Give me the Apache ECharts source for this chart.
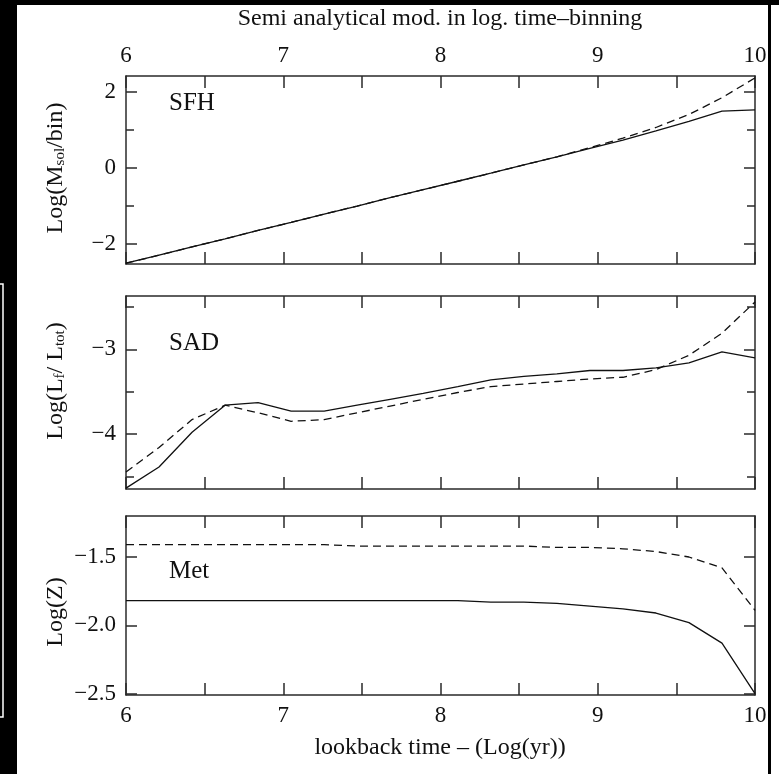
<!DOCTYPE html>
<html><head><meta charset="utf-8">
<script src="https://cdn.jsdelivr.net/npm/echarts@6/dist/echarts.min.js"></script>
<style>html,body{margin:0;padding:0;background:#fff}#c{width:779px;height:774px}</style>
</head><body><div id="c"></div>
<script>
// ---- data ----
const lookbackTime = [6.00, 6.21, 6.42, 6.63, 6.84, 7.05, 7.26, 7.47, 7.68, 7.89, 8.11, 8.32, 8.53, 8.74, 8.95, 9.16, 9.37, 9.58, 9.79, 10.00];
const sfhSolid  = [-2.50, -2.29, -2.07, -1.86, -1.64, -1.43, -1.21, -1.00, -0.78, -0.57, -0.35, -0.14, 0.08, 0.29, 0.51, 0.73, 0.97, 1.22, 1.49, 1.52];
const sfhDashed = [-2.50, -2.29, -2.07, -1.86, -1.64, -1.43, -1.21, -1.00, -0.78, -0.57, -0.35, -0.14, 0.08, 0.29, 0.53, 0.78, 1.06, 1.40, 1.84, 2.36];
const sadSolid  = [-4.64, -4.39, -3.98, -3.66, -3.63, -3.73, -3.73, -3.66, -3.59, -3.52, -3.44, -3.36, -3.32, -3.29, -3.25, -3.25, -3.22, -3.16, -3.03, -3.10];
const sadDashed = [-4.45, -4.16, -3.83, -3.66, -3.75, -3.85, -3.83, -3.75, -3.67, -3.59, -3.51, -3.44, -3.41, -3.38, -3.35, -3.33, -3.24, -3.07, -2.81, -2.44];
const metSolid  = [-1.82, -1.82, -1.82, -1.82, -1.82, -1.82, -1.82, -1.82, -1.82, -1.82, -1.82, -1.83, -1.83, -1.84, -1.86, -1.88, -1.91, -1.98, -2.13, -2.50];
const metDashed = [-1.41, -1.41, -1.41, -1.41, -1.41, -1.41, -1.41, -1.42, -1.42, -1.42, -1.42, -1.42, -1.42, -1.43, -1.43, -1.44, -1.46, -1.50, -1.58, -1.89];

const xRange = [6, 10];
const sfhRange = [-2.52, 2.41];
const sadRange = [-4.65, -2.37];
const metRange = [-2.51, -1.20];
const sfhMajor = [-2, 0, 2];
const sfhMinor = [-1, 1];
const sadMajor = [-4, -3];
const sadMinor = [-4.5, -3.5, -2.5];
const metMajor = [-2.5, -2.0, -1.5];
const metMinor = [];
const panelNames = ['SFH', 'SAD', 'Met'];
const topTitle = 'Semi analytical mod. in log. time–binning';
const bottomTitle = 'lookback time – (Log(yr))';

// ---- style ----
const FONT = 'Liberation Serif';
const INK = '#111';
const FRAME = '#2a2a2a';
const grids = [{left:126, right:24, top:76, height:188},
               {left:126, right:24, top:296, height:193},
               {left:126, right:24, top:516, height:179}];

const minus = s => String(s).replace(/-/g, '\u2212');

function xAx(g, pos, showLabel) {
  return {type:'value', gridIndex:g, position:pos, min:xRange[0], max:xRange[1], interval:1,
    axisLine:{show:true, onZero:false, lineStyle:{color:FRAME, width:1.5}},
    axisTick:{show:true, inside:true, length:12, lineStyle:{color:FRAME, width:1.5}},
    minorTick:{show:true, splitNumber:2, length:12, lineStyle:{color:FRAME, width:1.5}},
    splitLine:{show:false}, minorSplitLine:{show:false},
    axisLabel:{show:showLabel, margin:9, fontFamily:FONT, fontSize:23, color:INK}};
}
function yAx(g, pos, range, ticks, len, showLabel, fmt, line) {
  return {type:'value', gridIndex:g, position:pos, min:range[0], max:range[1],
    axisLine:{show:line, onZero:false, lineStyle:{color:FRAME, width:1.5}},
    axisTick:{show:ticks.length>0, inside:true, length:len, customValues:ticks, lineStyle:{color:FRAME, width:1.5}},
    splitLine:{show:false},
    axisLabel:{show:showLabel, customValues:ticks, formatter:fmt, margin:10, fontFamily:FONT, fontSize:23, color:INK}};
}
const fmt0 = v => minus(Math.round(v));
const fmt1 = v => minus(v.toFixed(1));

const xAxis = [
  xAx(0,'bottom',false), xAx(0,'top',true),
  xAx(1,'bottom',false), xAx(1,'top',false),
  xAx(2,'bottom',true),  xAx(2,'top',false)
];
const panels = [
  {range:sfhRange, major:sfhMajor, minor:sfhMinor, fmt:fmt0, solid:sfhSolid, dashed:sfhDashed},
  {range:sadRange, major:sadMajor, minor:sadMinor, fmt:fmt0, solid:sadSolid, dashed:sadDashed},
  {range:metRange, major:metMajor, minor:metMinor, fmt:fmt1, solid:metSolid, dashed:metDashed}
];
const yAxis = [];
panels.forEach((p, g) => {
  yAxis.push(yAx(g,'left', p.range, p.major, 11, true, p.fmt, true));
  yAxis.push(yAx(g,'left', p.range, p.minor, 8, false, p.fmt, false));
  yAxis.push(yAx(g,'right', p.range, p.major, 11, false, p.fmt, true));
  yAxis.push(yAx(g,'right', p.range, p.minor, 8, false, p.fmt, false));
});
const series = [];
panels.forEach((p, g) => {
  series.push({type:'line', xAxisIndex:2*g, yAxisIndex:4*g, symbol:'none', silent:true,
    lineStyle:{color:INK, width:1.3, type:'solid'},
    data: lookbackTime.map((t,i)=>[t, p.solid[i]])});
  series.push({type:'line', xAxisIndex:2*g, yAxisIndex:4*g, symbol:'none', silent:true,
    lineStyle:{color:INK, width:1.3, type:[8,5]},
    data: lookbackTime.map((t,i)=>[t, p.dashed[i]])});
});

const txt = (x, y, text, size, extra) => Object.assign({type:'text', x, y,
  style:Object.assign({text, fill:INK, font:`${size}px "${FONT}"`, align:'center', verticalAlign:'middle'}, (extra||{}).style||{})},
  extra ? Object.assign({}, extra, {style:undefined}) : {});

const subRich = {
  sub:{fontFamily:FONT, fontSize:15, lineHeight:8, verticalAlign:'bottom', fill:INK}
};
const yName = (y, text) => ({type:'text', x:56, y, rotation:Math.PI/2,
  style:{text, fill:INK, fontFamily:FONT, fontSize:24, lineHeight:24, align:'center', verticalAlign:'middle', rich:subRich}});

const graphic = [
  {type:'rect', shape:{x:0, y:0, width:17, height:774}, style:{fill:'#000'}},
  {type:'rect', shape:{x:0, y:0, width:779, height:5}, style:{fill:'#000'}},
  {type:'rect', shape:{x:768, y:0, width:3, height:774}, style:{fill:'#000'}},
  {type:'polyline', shape:{points:[[0,284],[3,284],[3,717],[0,717]]}, style:{stroke:'#fff', lineWidth:1.5, fill:null}},
  {type:'text', x:440, y:19, style:{text:topTitle, fill:INK, fontFamily:FONT, fontSize:24, align:'center', verticalAlign:'middle'}},
  {type:'text', x:440, y:748, style:{text:bottomTitle, fill:INK, fontFamily:FONT, fontSize:24, align:'center', verticalAlign:'middle'}},
  {type:'text', x:169, y:103, style:{text:panelNames[0], fill:INK, fontFamily:FONT, fontSize:25, align:'left', verticalAlign:'middle'}},
  {type:'text', x:169, y:343, style:{text:panelNames[1], fill:INK, fontFamily:FONT, fontSize:25, align:'left', verticalAlign:'middle'}},
  {type:'text', x:169, y:571, style:{text:panelNames[2], fill:INK, fontFamily:FONT, fontSize:25, align:'left', verticalAlign:'middle'}},
  yName(168, 'Log(M{sub|sol}/bin)'),
  yName(381, 'Log(L{sub|f}/ L{sub|tot})'),
  yName(612, 'Log(Z)')
];

const chart = echarts.init(document.getElementById('c'), null, {renderer:'canvas'});
chart.setOption({
  animation:false,
  backgroundColor:'#fff',
  grid: grids.map(g => Object.assign({containLabel:false}, g)),
  xAxis, yAxis, series, graphic
});
</script>
</body></html>
